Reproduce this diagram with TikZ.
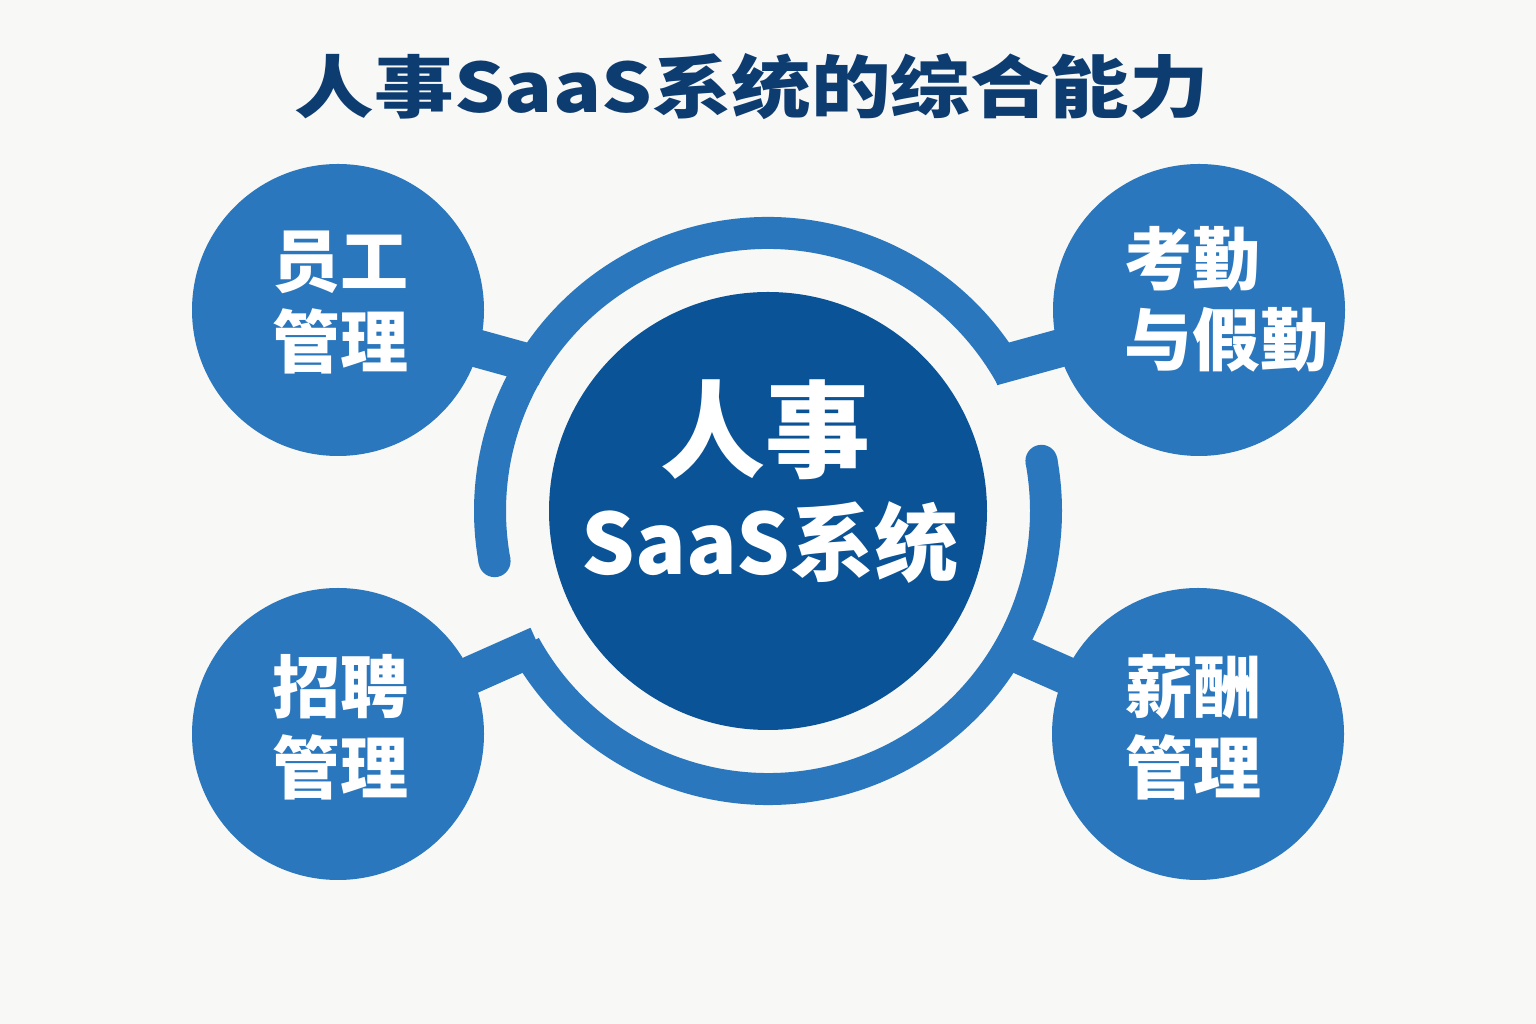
\documentclass[tikz,border=0pt]{standalone}
\usepackage{fontspec}
\newfontfamily\cjk{Noto Sans CJK SC}
\newfontfamily\cjkwide[FakeStretch=1.17]{Noto Sans CJK SC}
\usetikzlibrary{calc,positioning}
\definecolor{paper}{HTML}{F8F8F6}
\definecolor{satblue}{HTML}{2A77BD}
\definecolor{hubblue}{HTML}{0A5396}
\definecolor{navy}{HTML}{0D3C70}
\tikzset{hub/.style={circle,fill=hubblue,minimum size=438pt,inner sep=0pt}}
\tikzset{sat/.style={circle,fill=satblue,minimum size=292pt,inner sep=0pt}}
\tikzset{satText/.style={text=white,font=\cjk\bfseries\fontsize{68}{81}\selectfont,align=left,inner sep=0pt}}
\tikzset{hubText/.style={text=white,align=center,inner sep=0pt}}
\tikzset{ring/.style={draw=satblue,line width=32pt,line cap=butt}}
\tikzset{link/.style={-,draw=satblue,line width=38pt,shorten <=-4pt,shorten >=-12pt}}

\begin{document}
\begin{tikzpicture}[x=1pt,y=1pt]
\fill[paper] (0,0) rectangle (1536,1024);
\useasboundingbox (0,0) rectangle (1536,1024);
\node (title) [text=navy,font=\cjkwide\bfseries\fontsize{68}{68}\selectfont,inner sep=0pt] at (752,937) {人事SaaS系统的综合能力};
% centre and the four modules
\node (hub) [hub] at (768,513) {};
\node (staff) [sat] at (338,714) {};
\node (leave) [sat] at (1199,714) {};
\node (hire) [sat] at (338,290) {};
\node (pay) [sat] at (1198,290) {};
% where the links meet the ring
\coordinate (rStaff) at ($(hub)+(148:278pt)$);
\coordinate (rLeave) at ($(hub)+(32:278pt)$);
\coordinate (rHire) at ($(hub)+(210:278pt)$);
\coordinate (rPay) at ($(hub)+(330:278pt)$);
\coordinate (endLeft) at ($(hub)+(190.4:278pt)$);
\coordinate (endRight) at ($(hub)+(10.4:278pt)$);
\draw [ring] ($(hub)+(29:278pt)$) arc [start angle=29,end angle=190.4,radius=278pt];
\draw [ring] ($(hub)+(209:278pt)$) arc [start angle=209,end angle=370.4,radius=278pt];
\fill [satblue] (endLeft) circle (16pt) (endRight) circle (16pt);
\draw [link] (staff) -- (rStaff);
\draw [link] (leave) -- (rLeave);
\draw [link] (hire) -- (rHire);
\draw [link] (pay) -- (rPay);
% texts
\node (hubTop) [hubText,font=\cjk\bfseries\fontsize{105}{105}\selectfont] at (765,594) {人事};
\node (hubBottom) [hubText,font=\cjk\bfseries\fontsize{84}{84}\selectfont] at (770,481) {SaaS系统};
\node (staffText) [satText] at (340,721) {员工\\管理};
\node (leaveText) [satText] at (1226,725) {考勤\\与假勤};
\node (hireText) [satText] at (340,297) {招聘\\管理};
\node (payText) [satText] at (1193,297) {薪酬\\管理};
\end{tikzpicture}
\end{document}
